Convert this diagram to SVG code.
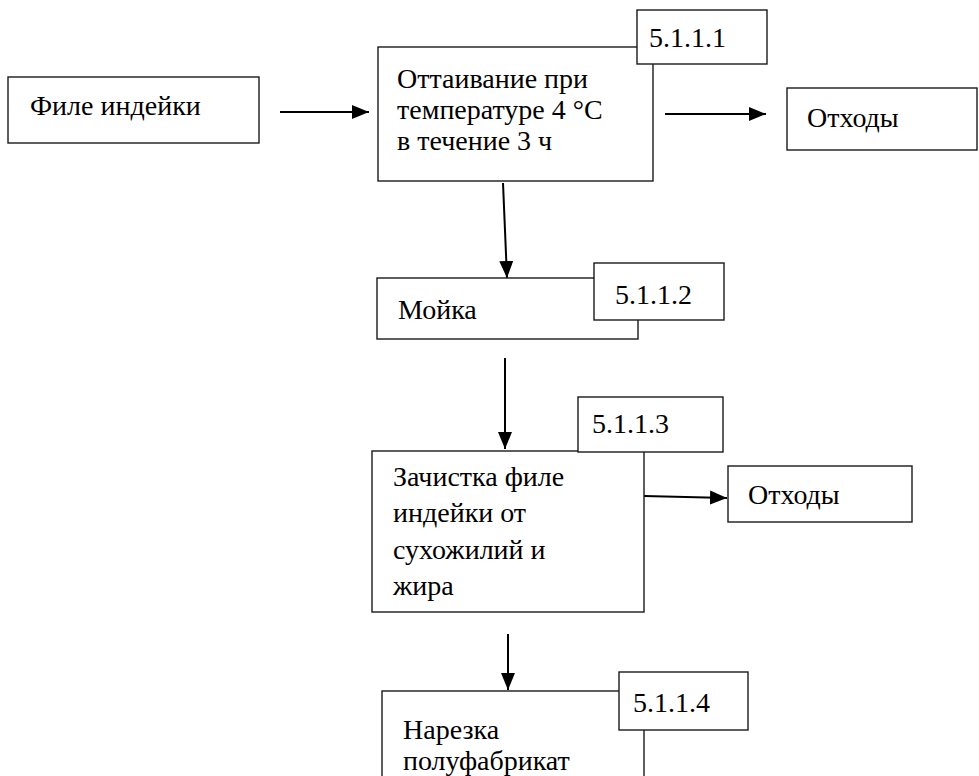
<svg xmlns="http://www.w3.org/2000/svg" width="979" height="776" viewBox="0 0 979 776">
<style>
  .box { fill: #ffffff; stroke: #1a1a1a; stroke-width: 1.4; }
  .t { font-family: 'Liberation Serif', 'Times New Roman', serif; font-size: 28px; fill: #000000; }
  .c { stroke: #000000; stroke-width: 2; fill: none; }
</style>
<defs>
  <marker id="ah" markerUnits="userSpaceOnUse" markerWidth="18" markerHeight="16" refX="17" refY="8" orient="auto">
    <path d="M0,1 L17,8 L0,15 Z" fill="#000000"/>
  </marker>
</defs>
<rect width="979" height="776" fill="#ffffff"/>

<g id="connectors">
  <line class="c" x1="280" y1="112" x2="369" y2="112" marker-end="url(#ah)"/>
  <line class="c" x1="665" y1="114" x2="766" y2="114" marker-end="url(#ah)"/>
  <line class="c" x1="503" y1="183" x2="507" y2="278" marker-end="url(#ah)"/>
  <line class="c" x1="505" y1="358" x2="505" y2="449" marker-end="url(#ah)"/>
  <line class="c" x1="644" y1="496" x2="727" y2="498" marker-end="url(#ah)"/>
  <line class="c" x1="508" y1="634" x2="508" y2="690" marker-end="url(#ah)"/>
</g>

<g id="node-file">
  <rect class="box" x="8" y="77" width="251" height="66"/>
  <text class="t" x="30" y="115">Филе индейки</text>
</g>

<g id="node-thaw">
  <rect class="box" x="378" y="47" width="275" height="134"/>
  <text class="t" x="397" y="88">Оттаивание при</text>
  <text class="t" x="397" y="119">температуре 4 °C</text>
  <text class="t" x="397" y="150">в течение 3 ч</text>
  <rect class="box" x="637" y="10" width="130" height="54"/>
  <text class="t" x="649" y="47">5.1.1.1</text>
</g>

<g id="node-waste1">
  <rect class="box" x="787" y="88" width="190" height="62"/>
  <text class="t" x="807" y="127">Отходы</text>
</g>

<g id="node-wash">
  <rect class="box" x="377" y="278" width="261" height="61"/>
  <text class="t" x="398" y="319">Мойка</text>
  <rect class="box" x="594" y="263" width="130" height="57"/>
  <text class="t" x="615" y="304">5.1.1.2</text>
</g>

<g id="node-clean">
  <rect class="box" x="372" y="451" width="272" height="161"/>
  <text class="t" x="393" y="486">Зачистка филе</text>
  <text class="t" x="393" y="522">индейки от</text>
  <text class="t" x="393" y="559">сухожилий и</text>
  <text class="t" x="393" y="595">жира</text>
  <rect class="box" x="578" y="397" width="145" height="55"/>
  <text class="t" x="592" y="433">5.1.1.3</text>
</g>

<g id="node-waste2">
  <rect class="box" x="728" y="466" width="184" height="56"/>
  <text class="t" x="748" y="504">Отходы</text>
</g>

<g id="node-cut">
  <rect class="box" x="382" y="691" width="262" height="100"/>
  <text class="t" x="403" y="739">Нарезка</text>
  <text class="t" x="403" y="770">полуфабрикат</text>
  <rect class="box" x="619" y="672" width="129" height="58"/>
  <text class="t" x="633" y="712">5.1.1.4</text>
</g>
</svg>
